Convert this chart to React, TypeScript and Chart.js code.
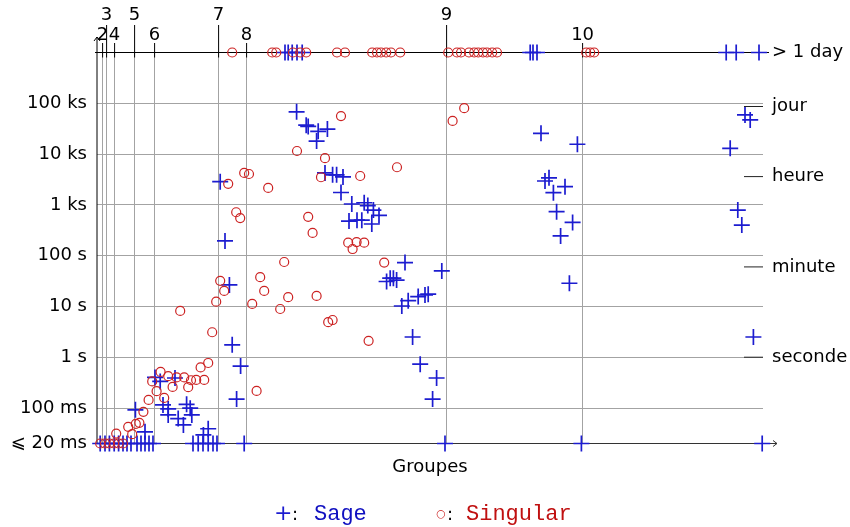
import React, { useEffect, useRef } from 'react';
import { Chart, registerables } from 'chart.js';
Chart.register(...registerables);

// x axis: index of transitive groups, tick at first group of each degree
const degreeStarts = [1, 2, 4, 9, 14, 30, 37, 87, 121];
const degreeLabels = ['2', '3', '4', '5', '6', '7', '8', '9', '10'];

// y axis: time in seconds (log)
const timeTicks = [0.02, 0.1, 1, 10, 100, 1000, 10000, 100000];
const timeTickLabels = ['⩽ 20 ms', '100 ms', '1 s', '10 s', '100 s', '1 ks', '10 ks', '100 ks'];
const unitTicks = [1, 60, 3600, 86400, 1000000];
const unitLabels = ['seconde', 'minute', 'heure', 'jour', '> 1 day'];

const TIME_MIN = 0.02;
const TIME_MAX = 1e6;

// Sage timings
const sageX = [
  46.6, 47.4, 48.4, 49.6, 50.9, 107.9, 108.6, 109.6, 156.9, 159.4, 165.1,
  0.4, 1.6, 2.7, 3.9, 5.0, 6.1, 7.1, 8.1, 9.6, 10.6, 11.6, 12.6, 13.6, 23.6, 24.9, 26.1, 27.4, 28.6, 29.6, 36.4, 86.6, 120.7, 165.9,
  49.5, 51.9, 52.4, 54.9, 57.2, 54.5,
  56.6, 58.5, 59.5, 61.1, 60.6,
  63.3, 66.4, 67.3, 68.7, 70.1, 62.6, 64.6, 65.8, 68.3,
  30.4, 31.6, 32.7, 33.4, 35.5, 34.5,
  76.6, 85.8, 72.0, 72.9, 73.7, 74.5, 75.8, 77.4, 79.9, 81.6, 82.4, 78.5, 80.4, 84.5, 83.5,
  110.6, 119.7, 111.6, 112.6, 113.7, 116.6, 114.5, 118.5, 115.5, 117.7,
  157.9, 161.6, 162.9, 159.8, 160.8, 163.7,
  14.1, 15.4, 19.1, 9.2, 16.1, 17.4, 22.0, 22.9, 17.4, 19.9, 23.3, 21.2, 27.4, 26.2, 11.6,
];
const sageY = [
  1e6, 1e6, 1e6, 1e6, 1e6, 1e6, 1e6, 1e6, 1e6, 1e6, 1e6,
  0.02, 0.02, 0.02, 0.02, 0.02, 0.02, 0.02, 0.02, 0.02, 0.02, 0.02, 0.02, 0.02, 0.02, 0.02, 0.02, 0.02, 0.02, 0.02, 0.02, 0.02, 0.02, 0.02,
  68000, 37000, 35000, 28000, 31000, 18000,
  4250, 3900, 3900, 3550, 1750,
  1040, 1100, 970, 790, 620, 480, 500, 500, 420,
  2860, 195, 26.5, 1.75, 0.67, 0.15,
  73, 50, 31, 36, 36, 33, 10.2, 13, 15.6, 16.8, 17.4, 2.5, 0.73, 0.39, 0.15,
  25600, 15600, 2950, 3400, 1740, 2280, 735, 450, 245, 28.6,
  13000, 59000, 47000, 790, 400, 2.5,
  0.4, 0.334, 0.39, 0.092, 0.115, 0.096, 0.118, 0.099, 0.073, 0.062, 0.073, 0.0465, 0.039, 0.0295, 0.034,
];

// Singular timings
const singularX = [
  33.4, 43.4, 44.4, 48.6, 50.4, 51.9, 59.6, 61.6, 68.4, 69.6, 70.6, 71.9, 73.1, 75.4, 87.4, 89.6, 90.6, 92.6, 93.9, 94.9, 96.1, 97.1, 98.4, 99.6, 121.9, 122.9, 123.9,
  0.4, 1.6, 2.7, 3.9, 5.0, 6.1,
  60.6, 49.6, 56.6, 74.6, 65.4, 55.6, 36.4, 37.6, 32.4, 42.4, 88.5, 91.4,
  34.4, 35.4, 52.4, 53.5, 62.4, 63.5, 64.5, 66.4, 71.4, 46.4, 40.4, 41.4, 30.4, 31.4, 29.4, 47.4, 45.4, 38.4, 54.5, 57.4, 58.5, 28.4, 67.5, 27.4, 25.5, 39.5, 20.4,
  15.5, 13.4, 17.4, 19.5, 21.4, 23.1, 24.4, 26.4, 18.5, 22.4, 14.5, 16.4, 12.5, 11.2, 10.2, 9.3, 7.4, 8.4, 4.4,
];
const singularY = [
  1e6, 1e6, 1e6, 1e6, 1e6, 1e6, 1e6, 1e6, 1e6, 1e6, 1e6, 1e6, 1e6, 1e6, 1e6, 1e6, 1e6, 1e6, 1e6, 1e6, 1e6, 1e6, 1e6, 1e6, 1e6, 1e6, 1e6,
  0.02, 0.02, 0.02, 0.02, 0.02, 0.02,
  56000, 11500, 8300, 5500, 3700, 3500, 4250, 4050, 2600, 2150, 45000, 80000,
  715, 550, 580, 280, 180, 135, 185, 180, 73, 75, 37.6, 20.2, 32, 20.2, 12.4, 15.2, 8.9, 11.2, 16.1, 4.9, 5.4, 3.1, 2.1, 0.77, 0.63, 0.217, 8.15,
  0.514, 0.334, 0.423, 0.4, 0.4, 0.352, 0.357, 0.357, 0.26, 0.257, 0.214, 0.158, 0.144, 0.084, 0.051, 0.0486, 0.0425, 0.0305, 0.0313,
];

const BLUE = '#1c1cd0';
const RED = '#cc2222';
const GRID = '#a3a3a3';
const FONT = 'DejaVu Sans';

const decorPlugin = {
  id: 'decor',
  beforeDatasetsDraw(chart: any) {
    const { ctx, chartArea: a, scales } = chart;
    const xs = scales.x;
    const y2 = scales.y2;
    ctx.save();
    ctx.lineWidth = 1;
    ctx.strokeStyle = '#000';
    // tick marks of the top axis
    degreeStarts.forEach((v, i) => {
      const px = xs.getPixelForValue(v);
      ctx.beginPath();
      ctx.moveTo(px, i % 2 === 1 ? 25 : 43);
      ctx.lineTo(px, a.top + 5);
      ctx.stroke();
    });
    // top line
    ctx.beginPath();
    ctx.moveTo(a.left - 2, a.top);
    ctx.lineTo(a.right + 6, a.top);
    ctx.stroke();
    // left axis with arrow
    ctx.beginPath();
    ctx.moveTo(a.left, a.bottom);
    ctx.lineTo(a.left, 37);
    ctx.moveTo(a.left - 3, 41);
    ctx.lineTo(a.left, 37);
    ctx.lineTo(a.left + 3, 41);
    ctx.stroke();
    // bottom axis with arrow
    ctx.strokeStyle = '#333';
    ctx.beginPath();
    ctx.moveTo(a.left, a.bottom);
    ctx.lineTo(a.right + 14, a.bottom);
    ctx.moveTo(a.right + 10, a.bottom - 3);
    ctx.lineTo(a.right + 14, a.bottom);
    ctx.lineTo(a.right + 10, a.bottom + 3);
    ctx.stroke();
    // unit marks on the right
    ctx.strokeStyle = '#222';
    unitTicks.slice(0, 4).forEach((v) => {
      const py = y2.getPixelForValue(v);
      ctx.beginPath();
      ctx.moveTo(a.right - 19, py);
      ctx.lineTo(a.right, py);
      ctx.stroke();
    });
    ctx.restore();
  },
  afterDraw(chart: any) {
    const { ctx } = chart;
    ctx.save();
    ctx.textBaseline = 'alphabetic';
    ctx.textAlign = 'left';
    const base = 520;
    ctx.font = `22px "${FONT}"`;
    ctx.fillStyle = BLUE;
    ctx.fillText('+', 274, base);
    ctx.font = `18px "${FONT}"`;
    ctx.fillStyle = '#000';
    ctx.fillText(':', 292, base);
    ctx.font = '22px "Liberation Mono"';
    ctx.fillStyle = '#1010c0';
    ctx.fillText('Sage', 314, base);
    ctx.font = `11px "${FONT}"`;
    ctx.fillStyle = RED;
    ctx.textAlign = 'center';
    ctx.fillText('○', 441, base - 3);
    ctx.textAlign = 'left';
    ctx.font = `18px "${FONT}"`;
    ctx.fillStyle = '#000';
    ctx.fillText(':', 447, base);
    ctx.font = '22px "Liberation Mono"';
    ctx.fillStyle = '#c01010';
    ctx.fillText('Singular', 466, base);
    ctx.restore();
  },
};

export default function App() {
  const ref = useRef<HTMLCanvasElement | null>(null);
  useEffect(() => {
    if (!ref.current) return;
    Chart.defaults.font.family = FONT;
    Chart.defaults.color = '#000';
    const chart = new Chart(ref.current, {
      type: 'scatter',
      data: {
        datasets: [
          {
            label: 'Singular',
            data: singularX.map((x, i) => ({ x, y: singularY[i] })),
            pointStyle: 'circle',
            pointRadius: 4.5,
            borderColor: RED,
            pointBorderColor: RED,
            backgroundColor: 'rgba(0,0,0,0)',
            pointBackgroundColor: 'rgba(0,0,0,0)',
            borderWidth: 1.2,
            pointBorderWidth: 1.2,
            clip: false,
            xAxisID: 'x',
            yAxisID: 'y',
          } as any,
          {
            label: 'Sage',
            data: sageX.map((x, i) => ({ x, y: sageY[i] })),
            pointStyle: 'cross',
            pointRadius: 8,
            borderColor: BLUE,
            pointBorderColor: BLUE,
            backgroundColor: BLUE,
            borderWidth: 1.7,
            pointBorderWidth: 1.7,
            clip: false,
            xAxisID: 'x',
            yAxisID: 'y',
          } as any,
        ],
      },
      options: {
        animation: false,
        responsive: false,
        maintainAspectRatio: false,
        devicePixelRatio: 1,
        layout: { padding: 0 },
        plugins: { legend: { display: false }, tooltip: { enabled: false } },
        scales: {
          x: {
            type: 'linear',
            position: 'top',
            min: -0.4,
            max: 166.1,
            afterBuildTicks: (s: any) => {
              s.ticks = degreeStarts.map((v) => ({ value: v }));
            },
            afterFit: (s: any) => {
              s.height = 52.5;
            },
            grid: { color: GRID, drawTicks: false },
            border: { display: false },
            ticks: {
              autoSkip: false,
              maxRotation: 0,
              padding: 7,
              color: '#000',
              font: { size: 18, lineHeight: '20px' },
              callback: (_v: any, i: number) => (i % 2 === 1 ? [degreeLabels[i], ''] : degreeLabels[i]),
            },
          },
          xb: {
            type: 'linear',
            position: 'bottom',
            min: 0,
            max: 1,
            afterFit: (s: any) => {
              s.height = 83.5;
            },
            grid: { display: false, drawTicks: false },
            border: { display: false },
            ticks: { display: false },
            title: {
              display: true,
              text: 'Groupes',
              color: '#000',
              font: { size: 18, lineHeight: '20px' },
              padding: { top: 0, bottom: 50 },
            },
          },
          y: {
            type: 'logarithmic',
            position: 'left',
            min: TIME_MIN,
            max: TIME_MAX,
            afterBuildTicks: (s: any) => {
              s.ticks = timeTicks.map((v) => ({ value: v }));
            },
            afterFit: (s: any) => {
              s.width = 97;
            },
            grid: {
              drawTicks: false,
              color: (c: any) => (c.tick && c.tick.value === TIME_MIN ? 'rgba(0,0,0,0)' : GRID),
            },
            border: { display: false },
            ticks: {
              autoSkip: false,
              padding: 10,
              color: '#000',
              font: { size: 18 },
              callback: (_v: any, i: number) => timeTickLabels[i],
            },
          },
          y2: {
            type: 'logarithmic',
            position: 'right',
            min: TIME_MIN,
            max: TIME_MAX,
            afterBuildTicks: (s: any) => {
              s.ticks = unitTicks.map((v) => ({ value: v }));
            },
            afterFit: (s: any) => {
              s.width = 87;
            },
            grid: { drawOnChartArea: false, drawTicks: false },
            border: { display: false },
            ticks: {
              autoSkip: false,
              padding: 9,
              color: '#000',
              font: { size: 18 },
              callback: (_v: any, i: number) => unitLabels[i],
            },
          },
        } as any,
      },
      plugins: [decorPlugin],
    });
    return () => chart.destroy();
  }, []);

  return (
    <div style={{ position: 'fixed', left: 0, top: 0, width: 850, height: 527, background: '#fff' }}>
      <canvas ref={ref} width={850} height={527} style={{ width: 850, height: 527, display: 'block' }} />
    </div>
  );
}
